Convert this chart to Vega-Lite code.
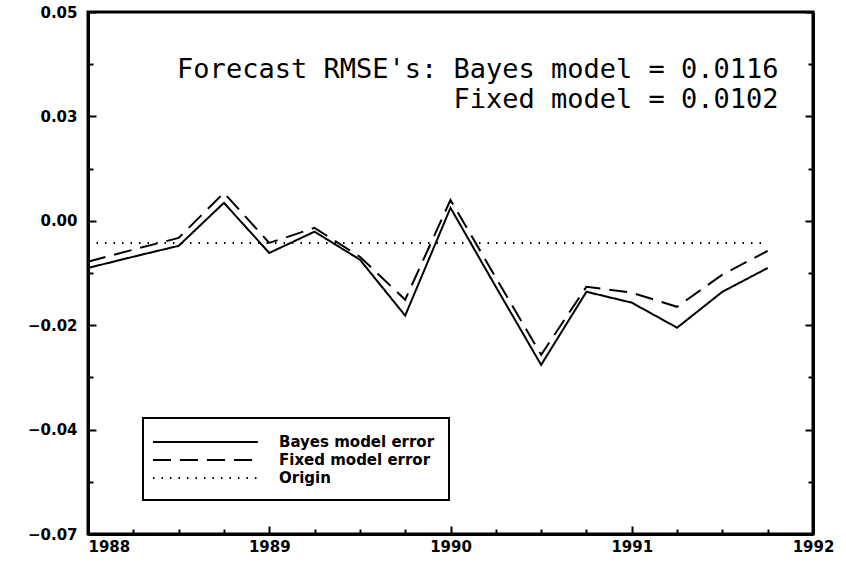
{
  "$schema": "https://vega.github.io/schema/vega-lite/v6.json",
  "width": 725,
  "height": 522,
  "autosize": "none",
  "padding": {"left": 88, "top": 12, "right": 33, "bottom": 32},
  "background": "white",
  "config": {
    "view": {"stroke": "black", "strokeWidth": 3},
    "axis": {"domainColor": "black", "domainWidth": 3, "tickColor": "black", "tickWidth": 2, "grid": false, "labelFont": "DejaVu Sans", "labelFontWeight": "bold", "labelFontSize": 16, "labelColor": "black"},
    "legend": {"strokeWidth": 2}
  },
  "resolve": {"axis": {"y": "independent"}},
  "layer": [
    {
      "data": {"values": [
        {"t": 1988.0, "v": -0.0113, "series": "Bayes model error"},
        {"t": 1988.25, "v": -0.0086, "series": "Bayes model error"},
        {"t": 1988.5, "v": -0.0060, "series": "Bayes model error"},
        {"t": 1988.75, "v": 0.0043, "series": "Bayes model error"},
        {"t": 1989.0, "v": -0.0077, "series": "Bayes model error"},
        {"t": 1989.25, "v": -0.0026, "series": "Bayes model error"},
        {"t": 1989.5, "v": -0.0093, "series": "Bayes model error"},
        {"t": 1989.75, "v": -0.0227, "series": "Bayes model error"},
        {"t": 1990.0, "v": 0.0031, "series": "Bayes model error"},
        {"t": 1990.25, "v": -0.0158, "series": "Bayes model error"},
        {"t": 1990.5, "v": -0.0345, "series": "Bayes model error"},
        {"t": 1990.75, "v": -0.0170, "series": "Bayes model error"},
        {"t": 1991.0, "v": -0.0196, "series": "Bayes model error"},
        {"t": 1991.25, "v": -0.0256, "series": "Bayes model error"},
        {"t": 1991.5, "v": -0.0170, "series": "Bayes model error"},
        {"t": 1991.75, "v": -0.0113, "series": "Bayes model error"},
        {"t": 1988.0, "v": -0.0098, "series": "Fixed model error"},
        {"t": 1988.25, "v": -0.0069, "series": "Fixed model error"},
        {"t": 1988.5, "v": -0.0041, "series": "Fixed model error"},
        {"t": 1988.75, "v": 0.0067, "series": "Fixed model error"},
        {"t": 1989.0, "v": -0.0053, "series": "Fixed model error"},
        {"t": 1989.25, "v": -0.0017, "series": "Fixed model error"},
        {"t": 1989.5, "v": -0.0086, "series": "Fixed model error"},
        {"t": 1989.75, "v": -0.0189, "series": "Fixed model error"},
        {"t": 1990.0, "v": 0.0050, "series": "Fixed model error"},
        {"t": 1990.25, "v": -0.0136, "series": "Fixed model error"},
        {"t": 1990.5, "v": -0.0321, "series": "Fixed model error"},
        {"t": 1990.75, "v": -0.0158, "series": "Fixed model error"},
        {"t": 1991.0, "v": -0.0172, "series": "Fixed model error"},
        {"t": 1991.25, "v": -0.0206, "series": "Fixed model error"},
        {"t": 1991.5, "v": -0.0129, "series": "Fixed model error"},
        {"t": 1991.75, "v": -0.0072, "series": "Fixed model error"},
        {"t": 1988.0, "v": -0.0053, "series": "Origin"},
        {"t": 1991.75, "v": -0.0053, "series": "Origin"}
      ]},
      "mark": {"type": "line", "color": "black"},
      "encoding": {
        "x": {"field": "t", "type": "quantitative",
          "scale": {"domain": [1988, 1992], "nice": false, "zero": false},
          "axis": {"title": null,
            "values": [1988, 1988.25, 1988.5, 1988.75, 1989, 1989.25, 1989.5, 1989.75, 1990, 1990.25, 1990.5, 1990.75, 1991, 1991.25, 1991.5, 1991.75, 1992],
            "labelExpr": "datum.value % 1 == 0 ? format(datum.value, 'd') : ''",
            "labelAlign": {"condition": {"test": "datum.value == 1988", "value": "left"}, "value": "center"},
            "tickSize": {"condition": {"test": "datum.value % 1 == 0", "value": -8}, "value": -5},
            "labelFontSize": 15,
            "labelPadding": 13}},
        "y": {"field": "v", "type": "quantitative",
          "scale": {"domain": [-0.075, 0.05], "nice": false, "zero": false},
          "axis": {"title": null,
            "values": [0.05, 0.0375, 0.025, 0.0125, 0, -0.0125, -0.025, -0.0375, -0.05, -0.0625, -0.075],
            "labelExpr": "datum.value > 0.04 ? '0.05' : (datum.value > 0.02 && datum.value < 0.03) ? '0.03' : abs(datum.value) < 0.001 ? '0.00' : abs(datum.value + 0.025) < 0.001 ? '−0.02' : abs(datum.value + 0.05) < 0.001 ? '−0.04' : datum.value < -0.07 ? '−0.07' : ''",
            "tickSize": {"condition": {"test": "abs(datum.value * 40 - round(datum.value * 40)) < 0.01", "value": -8}, "value": -5},
            "labelFontSize": 15,
            "labelPadding": 19}},
        "strokeDash": {"field": "series", "type": "nominal",
          "scale": {"domain": ["Bayes model error", "Fixed model error", "Origin"], "range": [[1, 0], [18, 9], [1.5, 7]]},
          "legend": {"title": null, "orient": "none", "legendX": 55, "legendY": 406,
            "symbolType": "M-1.56,0H10.1", "symbolSize": 324, "symbolStrokeWidth": 2, "symbolStrokeColor": "black",
            "labelFont": "DejaVu Sans", "labelFontWeight": "bold", "labelFontSize": 15, "labelColor": "black",
            "labelOffset": 102, "strokeColor": "black", "padding": 14, "rowPadding": 0, "fillColor": "white"}},
        "strokeWidth": {"field": "series", "type": "nominal",
          "scale": {"domain": ["Bayes model error", "Fixed model error", "Origin"], "range": [2, 2, 1.5]},
          "legend": null}
      }
    },
    {
      "data": {"values": [
        {"t": 1991.81, "v": 0.0342, "label": "Forecast RMSE's: Bayes model = 0.0116"},
        {"t": 1991.81, "v": 0.0271, "label": "Fixed model = 0.0102"}
      ]},
      "mark": {"type": "text", "align": "right", "baseline": "alphabetic", "font": "DejaVu Sans Mono", "fontSize": 27, "color": "black"},
      "encoding": {
        "x": {"field": "t", "type": "quantitative"},
        "y": {"field": "v", "type": "quantitative",
          "axis": {"title": null, "orient": "right", "labels": false,
            "values": [0.05, 0.0375, 0.025, 0.0125, 0, -0.0125, -0.025, -0.0375, -0.05, -0.0625, -0.075],
            "tickSize": {"condition": {"test": "abs(datum.value * 40 - round(datum.value * 40)) < 0.01", "value": -8}, "value": -5}}},
        "text": {"field": "label"}
      }
    }
  ]
}
